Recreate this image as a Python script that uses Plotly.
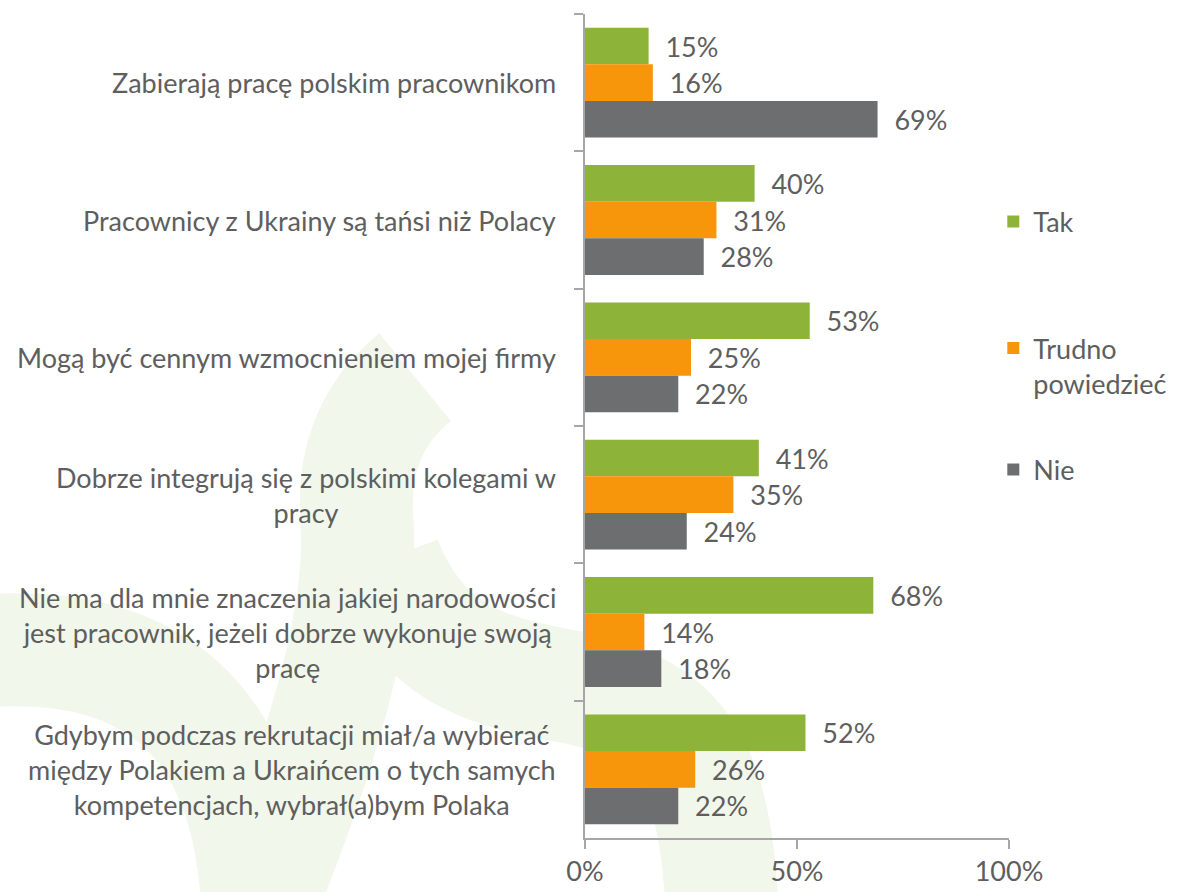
import plotly.graph_objects as go

categories = [
    "Zabierają pracę polskim pracownikom",
    "Pracownicy z Ukrainy są tańsi niż Polacy",
    "Mogą być cennym wzmocnieniem mojej firmy",
    "Dobrze integrują się z polskimi kolegami w<br>pracy",
    "Nie ma dla mnie znaczenia jakiej narodowości<br>jest pracownik, jeżeli dobrze wykonuje swoją<br>pracę",
    "Gdybym podczas rekrutacji miał/a wybierać<br>między Polakiem a Ukraińcem o tych samych<br>kompetencjach, wybrał(a)bym Polaka",
]
tak = [15, 40, 53, 41, 68, 52]
trudno = [16, 31, 25, 35, 14, 26]
nie = [69, 28, 22, 24, 18, 22]
series_names = ["Tak", "Trudno<br>powiedzieć", "Nie"]
x_tickvals = [0, 50, 100]
x_ticktext = ["0%", "50%", "100%"]

colors = ["#8DB438", "#F7960A", "#6D6E70"]
FONT = "Lato"
FS = 27
TXT = "#5E5E5E"
W, H = 1183, 892
ML, MR, MT, MB = 585, 174, 14, 54
PW, PH = W - ML - MR, H - MT - MB


def px(x):
    return (x - ML) / PW


def py(y):
    return (H - MB - y) / PH


def path(cmds):
    out = []
    for c in cmds:
        if isinstance(c, str):
            out.append(c)
        else:
            out.append(f"{px(c[0]):.4f},{py(c[1]):.4f}")
    return " ".join(out)


fig = go.Figure()
legends = ["legend", "legend2", "legend3"]
for name, vals, col, lg in zip(series_names, [tak, trudno, nie], colors, legends):
    fig.add_trace(go.Bar(
        y=categories, x=vals, name=name, orientation="h",
        marker=dict(color=col, line=dict(width=0)),
        text=[f"\u00a0\u00a0{v}%" for v in vals],
        textposition="outside", constraintext="none", cliponaxis=False,
        textfont=dict(family=FONT, size=FS, color=TXT),
        legend=lg, hoverinfo="skip",
    ))

wm = "#f1f7ea"
bands = [
    ["M", (-30, 652), "Q", (245, 625), (258, 910)],
    ["M", (415, 377), "Q", (350, 430), (357, 520), "Q", (365, 650), (258, 910)],
    ["M", (385, 560), "C", (420, 650), (480, 670), (560, 685),
     "C", (680, 705), (715, 760), (722, 910)],
]
shapes = []
for b in bands:
    shapes.append(dict(type="path", xref="paper", yref="paper", path=path(b),
                       line=dict(color=wm, width=113), fillcolor="rgba(0,0,0,0)",
                       layer="below"))

annotations = []
for c in categories:
    annotations.append(dict(
        x=0, xref="paper", y=c, yref="y", xshift=-27, xanchor="right",
        yanchor="middle", text=c, showarrow=False, align="center",
        font=dict(family=FONT, size=FS, color=TXT),
    ))

leg_common = dict(x=0.963, xanchor="left", yanchor="middle", valign="top",
                  font=dict(family=FONT, size=FS, color=TXT),
                  bgcolor="rgba(0,0,0,0)")

fig.update_layout(
    width=W, height=H,
    margin=dict(l=ML, r=MR, t=MT, b=MB, pad=0, autoexpand=False),
    paper_bgcolor="white", plot_bgcolor="rgba(0,0,0,0)",
    barmode="group", bargap=0.2, bargroupgap=0,
    showlegend=True,
    legend=dict(y=py(222), **leg_common),
    legend2=dict(y=py(366), **leg_common),
    legend3=dict(y=py(470), **leg_common),
    shapes=shapes, annotations=annotations,
    font=dict(family=FONT, size=FS, color=TXT),
)
fig.update_xaxes(range=[0, 100], tickvals=x_tickvals, ticktext=x_ticktext,
                 showgrid=False, zeroline=False, showline=True, automargin=False,
                 linecolor="#A6A6A6", linewidth=1.5, ticks="outside",
                 ticklen=9, tickcolor="#A6A6A6", tickwidth=1.5,
                 tickfont=dict(family=FONT, size=FS, color=TXT))
fig.update_yaxes(autorange="reversed", showticklabels=False, showgrid=False,
                 zeroline=False, showline=True, linecolor="#A6A6A6", automargin=False,
                 linewidth=1.5, ticks="outside", tickson="boundaries",
                 ticklen=9, tickcolor="#A6A6A6", tickwidth=1.5)

fig.write_html("out.html", config={"displayModeBar": False},
               post_script="document.body.style.margin='0';document.body.style.overflow='hidden';")
